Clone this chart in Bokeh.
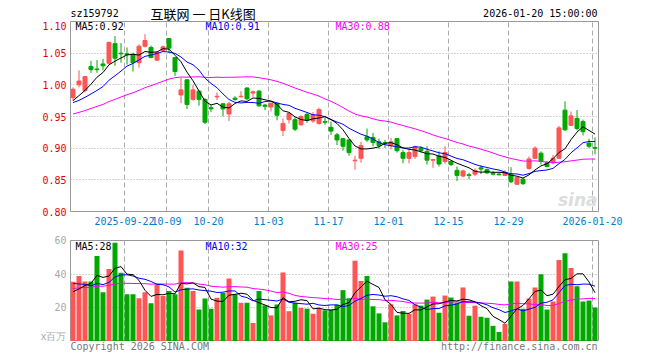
import math
import numpy as np
import pandas as pd
from bokeh.plotting import figure
from bokeh.layouts import column
from bokeh.models import Range1d, FixedTicker, Label, ColumnDataSource
from bokeh.embed import file_html
from bokeh.resources import INLINE

# ---------------- data ----------------
symbol = "sz159792"
chart_title = "互联网 一 日K线图"
stamp = "2026-01-20 15:00:00"

holidays = ["2025-10-01", "2025-10-02", "2025-10-03", "2025-10-06", "2025-10-07",
            "2025-10-08", "2026-01-01", "2026-01-02"]

open_ = [0.980, 1.000, 0.991, 1.029, 1.025, 1.033, 1.034, 1.065, 1.050, 1.049,
         1.048, 1.035, 1.061, 1.059, 1.039, 1.054, 1.073, 1.043, 0.984, 1.008,
         0.977, 0.990, 0.977, 0.964, 0.981, 0.970, 0.954, 0.979, 0.981, 0.995,
         0.987, 0.990, 0.968, 0.965, 0.970, 0.928, 0.945, 0.945, 0.937, 0.953,
         0.943, 0.939, 0.942, 0.933, 0.921, 0.915, 0.913, 0.880, 0.884, 0.918,
         0.917, 0.910, 0.909, 0.904, 0.915, 0.893, 0.884, 0.887, 0.900, 0.895,
         0.881, 0.888, 0.879, 0.879, 0.865, 0.856, 0.858, 0.859, 0.869, 0.866,
         0.860, 0.859, 0.857, 0.859, 0.843, 0.851, 0.868, 0.884, 0.892, 0.877,
         0.877, 0.884, 0.960, 0.936, 0.947, 0.942, 0.908, 0.901]
high = [0.996, 1.023, 1.014, 1.038, 1.039, 1.041, 1.068, 1.077, 1.066, 1.059,
        1.051, 1.064, 1.080, 1.062, 1.053, 1.062, 1.074, 1.044, 1.011, 1.008,
        1.000, 0.991, 0.979, 0.968, 0.988, 0.971, 0.973, 0.982, 0.990, 0.996,
        0.991, 0.992, 0.970, 0.972, 0.972, 0.947, 0.956, 0.949, 0.952, 0.957,
        0.957, 0.964, 0.948, 0.942, 0.924, 0.916, 0.914, 0.888, 0.910, 0.931,
        0.924, 0.915, 0.913, 0.916, 0.916, 0.897, 0.898, 0.904, 0.903, 0.903,
        0.883, 0.895, 0.903, 0.881, 0.871, 0.866, 0.861, 0.868, 0.873, 0.868,
        0.864, 0.862, 0.865, 0.870, 0.855, 0.853, 0.887, 0.903, 0.895, 0.880,
        0.889, 0.935, 0.974, 0.958, 0.960, 0.945, 0.915, 0.917]
low = [0.975, 0.996, 0.988, 1.019, 1.019, 1.023, 1.032, 1.030, 1.035, 1.032,
       1.021, 1.027, 1.059, 1.042, 1.038, 1.053, 1.050, 1.014, 0.971, 0.962,
       0.975, 0.967, 0.938, 0.957, 0.976, 0.950, 0.943, 0.975, 0.980, 0.976,
       0.981, 0.965, 0.960, 0.958, 0.944, 0.919, 0.939, 0.927, 0.935, 0.940,
       0.940, 0.937, 0.937, 0.921, 0.905, 0.896, 0.888, 0.866, 0.877, 0.910,
       0.903, 0.899, 0.900, 0.898, 0.893, 0.876, 0.876, 0.883, 0.893, 0.874,
       0.869, 0.871, 0.875, 0.872, 0.848, 0.854, 0.851, 0.856, 0.859, 0.859,
       0.857, 0.857, 0.856, 0.845, 0.842, 0.842, 0.866, 0.883, 0.874, 0.870,
       0.875, 0.883, 0.927, 0.935, 0.928, 0.920, 0.900, 0.890]
close = [0.993, 1.006, 1.013, 1.024, 1.024, 1.030, 1.067, 1.042, 1.049, 1.048,
         1.035, 1.061, 1.070, 1.043, 1.051, 1.060, 1.058, 1.021, 0.992, 0.969,
         0.992, 0.977, 0.941, 0.962, 0.982, 0.962, 0.970, 0.977, 0.982, 0.978,
         0.989, 0.967, 0.966, 0.971, 0.952, 0.939, 0.955, 0.930, 0.950, 0.944,
         0.953, 0.961, 0.941, 0.927, 0.913, 0.903, 0.893, 0.881, 0.904, 0.913,
         0.909, 0.904, 0.908, 0.910, 0.896, 0.884, 0.893, 0.902, 0.896, 0.881,
         0.882, 0.875, 0.893, 0.874, 0.857, 0.864, 0.857, 0.865, 0.867, 0.861,
         0.859, 0.858, 0.861, 0.847, 0.854, 0.844, 0.883, 0.900, 0.879, 0.871,
         0.884, 0.932, 0.929, 0.951, 0.931, 0.926, 0.903, 0.900]
volume = [35.5, 38.9, 35.7, 35.7, 50.8, 29.3, 43.0, 58.6, 40.9, 28.1,
          28.1, 25.7, 29.3, 22.7, 34.0, 27.0, 30.0, 28.0, 54.0, 32.0,
          30.0, 19.0, 25.5, 19.5, 26.0, 29.0, 37.5, 28.0, 23.0, 23.0,
          11.0, 30.0, 21.5, 15.5, 22.0, 41.0, 18.0, 23.0, 20.0, 19.5,
          16.5, 20.0, 18.5, 18.9, 21.9, 30.5, 25.7, 48.0, 36.0, 38.9,
          20.9, 16.7, 11.4, 22.1, 15.5, 18.1, 16.5, 22.1, 21.3, 24.9,
          26.7, 17.1, 27.3, 26.1, 23.1, 32.1, 15.3, 21.3, 14.7, 14.1,
          9.3, 5.7, 10.5, 35.7, 35.7, 19.5, 25.5, 32.1, 40.0, 19.0,
          23.8, 48.4, 52.4, 43.6, 32.8, 23.8, 24.4, 20.2]

# sessions before the visible window (estimated from where the MA curves start)
pre_close = [0.925, 0.928, 0.922, 0.930, 0.935, 0.932, 0.938, 0.936, 0.942, 0.940,
             0.945, 0.948, 0.944, 0.950, 0.952, 0.956, 0.955, 0.962, 0.975, 0.980,
             0.972, 0.965, 0.970, 0.968, 0.970, 0.966, 0.972, 0.975, 0.969]
pre_volume = [30, 28, 32, 29, 31, 27, 33, 30, 29, 31, 28, 30, 32, 29, 30, 31, 28, 30,
              29, 33, 42, 38, 45, 36, 36.5, 30, 26, 29, 27]

tick_dates = ["2025-09-22", "2025-10-09", "2025-10-20", "2025-11-03", "2025-11-17",
              "2025-12-01", "2025-12-15", "2025-12-29", "2026-01-20"]
tick_labels = ["2025-09-22", "10-09", "10-20", "11-03", "11-17", "12-01", "12-15",
               "12-29", "2026-01-20"]
price_ticks = [0.80, 0.85, 0.90, 0.95, 1.00, 1.05, 1.10]
vol_ticks = [0, 20, 40, 60]
vol_unit = "x百万"
copyright_text = "Copyright 2026 SINA.COM"
url_text = "http://finance.sina.com.cn"

# ---------------- derived ----------------
dates = [d.strftime("%Y-%m-%d") for d in pd.bdate_range("2025-09-09", "2026-01-20")
         if d.strftime("%Y-%m-%d") not in holidays]
n = len(close)
dates = dates[-n:]
idx = np.arange(n)
xc = idx + 5.0 / 12.0
tick_pos = [dates.index(d) for d in tick_dates]

RED = "#ff5555"
GREEN = "#00a800"
FONT = "DejaVu Sans Mono"
GRID = "#aaaaaa"
W = 660
LEFT, RIGHT = 70, 62

o = np.array(open_); c = np.array(close)
up = c >= o
colors = [RED if u else GREEN for u in up]

allc = pd.Series(pre_close + close)
allv = pd.Series(pre_volume + volume)
k = len(pre_close)
ma = {w: allc.rolling(w).mean().values[k:] for w in (5, 10, 30)}
vma = {w: allv.rolling(w).mean().values[k:] for w in (5, 10, 30)}
ma_colors = {5: "#000000", 10: "#0000ff", 30: "#ff00ff"}

def trunc2(v):
    return "%.2f" % (math.floor(v * 100 + 1e-9) / 100)

src = ColumnDataSource(dict(x=xc, top=np.maximum(o, c), bottom=np.minimum(o, c),
                            high=high, low=low, color=colors, vol=volume))

def lab(fig, x, y, text, color="#000000", size="10px", align="left", font=FONT,
        style="normal", units="screen"):
    fig.add_layout(Label(x=x, y=y, x_units=units, y_units=units, text=text,
                         text_color=color, text_font=font, text_font_size=size,
                         text_align=align, text_baseline="middle", text_font_style=style))

def strip(h):
    # the column aligns frames, so this strip's frame spans the panels' frame width
    f = figure(width=W, height=h, x_range=Range1d(LEFT, W - RIGHT), y_range=Range1d(0, h),
               output_backend="svg", toolbar_location=None,
               x_axis_location=None, y_axis_location=None,
               min_border_left=LEFT, min_border_right=RIGHT, min_border_top=0,
               min_border_bottom=0)
    f.grid.visible = False
    f.outline_line_color = None
    f.background_fill_color = "white"
    f.border_fill_color = "white"
    return f

# ---------------- header ----------------
head = strip(21)
lab(head, LEFT, 21 - 13, symbol, units="data")
lab(head, 150, 21 - 12.5, chart_title, size="13px", font="Noto Sans CJK SC", units="data")
lab(head, W - RIGHT - 1, 21 - 13, stamp, align="right", units="data")

# ---------------- price panel ----------------
p = figure(width=W, height=211, x_range=Range1d(0, n), y_range=Range1d(0.80, 1.10),
           output_backend="svg", toolbar_location=None,
           min_border_left=LEFT, min_border_right=RIGHT, min_border_top=0, min_border_bottom=21)
p.outline_line_color = "#999999"
p.background_fill_color = "white"
p.border_fill_color = "white"

p.xgrid.ticker = FixedTicker(ticks=tick_pos)
p.xgrid.grid_line_color = GRID
p.xgrid.grid_line_dash = "5 3"
p.ygrid.ticker = FixedTicker(ticks=price_ticks[1:-1])
p.ygrid.grid_line_color = GRID
p.ygrid.grid_line_dash = "1 2"

p.xaxis.ticker = FixedTicker(ticks=tick_pos)
p.xaxis.major_label_overrides = {t: l for t, l in zip(tick_pos, tick_labels)}
p.yaxis.ticker = FixedTicker(ticks=price_ticks)
p.yaxis.major_label_overrides = {t: "%.2f" % t for t in price_ticks}
for ax, col, so in ((p.xaxis, "#0080cc", 5), (p.yaxis, "#e60000", 4)):
    ax.axis_line_color = None
    ax.major_tick_line_color = None
    ax.minor_tick_line_color = None
    ax.major_tick_out = 0
    ax.major_tick_in = 0
    ax.major_label_standoff = so
    ax.major_label_text_font = FONT
    ax.major_label_text_font_size = "10px"
    ax.major_label_text_color = col

p.segment(x0="x", y0="low", x1="x", y1="high", color="color", line_width=1, source=src)
p.vbar(x="x", width=4 / 6, top="top", bottom="bottom", fill_color="color",
       line_color="color", line_width=1, source=src)
for w in (30, 10, 5):
    p.line(xc, ma[w], color=ma_colors[w], line_width=1)

lab(p, 5, 185, "MA5:" + trunc2(ma[5][-1]), ma_colors[5])
lab(p, 135, 185, "MA10:" + trunc2(ma[10][-1]), ma_colors[10])
lab(p, 265, 185, "MA30:" + trunc2(ma[30][-1]), ma_colors[30])
lab(p, 527, 12, "sina", "#dddddd", size="17px", align="right", font="DejaVu Sans",
    style="bold italic")

# ---------------- volume panel ----------------
q = figure(width=W, height=109, x_range=p.x_range, y_range=Range1d(0, 60),
           output_backend="svg", toolbar_location=None,
           min_border_left=LEFT, min_border_right=RIGHT, min_border_top=8, min_border_bottom=0)
q.outline_line_color = "#999999"
q.background_fill_color = "white"
q.border_fill_color = "white"
q.xaxis.visible = False
q.xgrid.ticker = FixedTicker(ticks=tick_pos)
q.xgrid.grid_line_color = GRID
q.xgrid.grid_line_dash = "5 3"
q.ygrid.ticker = FixedTicker(ticks=[20, 40])
q.ygrid.grid_line_color = GRID
q.ygrid.grid_line_dash = "1 2"
q.yaxis.ticker = FixedTicker(ticks=vol_ticks)
q.yaxis.major_label_overrides = {t: (vol_unit if t == 0 else str(t)) for t in vol_ticks}
q.yaxis.axis_line_color = None
q.yaxis.major_tick_line_color = None
q.yaxis.minor_tick_line_color = None
q.yaxis.major_tick_out = 0
q.yaxis.major_tick_in = 0
q.yaxis.major_label_standoff = 4
q.yaxis.major_label_text_font = FONT
q.yaxis.major_label_text_font_size = "10px"
q.yaxis.major_label_text_color = "#aaaaaa"

q.vbar(x="x", width=5 / 6, top="vol", bottom=0, fill_color="color", line_color=None, source=src)
for w in (30, 10, 5):
    q.line(xc, vma[w], color=ma_colors[w], line_width=1)

lab(q, 5, 95, "MA5:%d" % int(vma[5][-1]), ma_colors[5])
lab(q, 135, 95, "MA10:%d" % int(vma[10][-1]), ma_colors[10])
lab(q, 265, 95, "MA30:%d" % int(vma[30][-1]), ma_colors[30])

# ---------------- footer ----------------
foot = strip(19)
lab(foot, LEFT, 19 - 5, copyright_text, "#777777", units="data")
lab(foot, W - RIGHT - 1, 19 - 5, url_text, "#777777", align="right", units="data")

layout = column(head, p, q, foot, spacing=0)
open("out.html", "w").write(file_html(layout, INLINE))
